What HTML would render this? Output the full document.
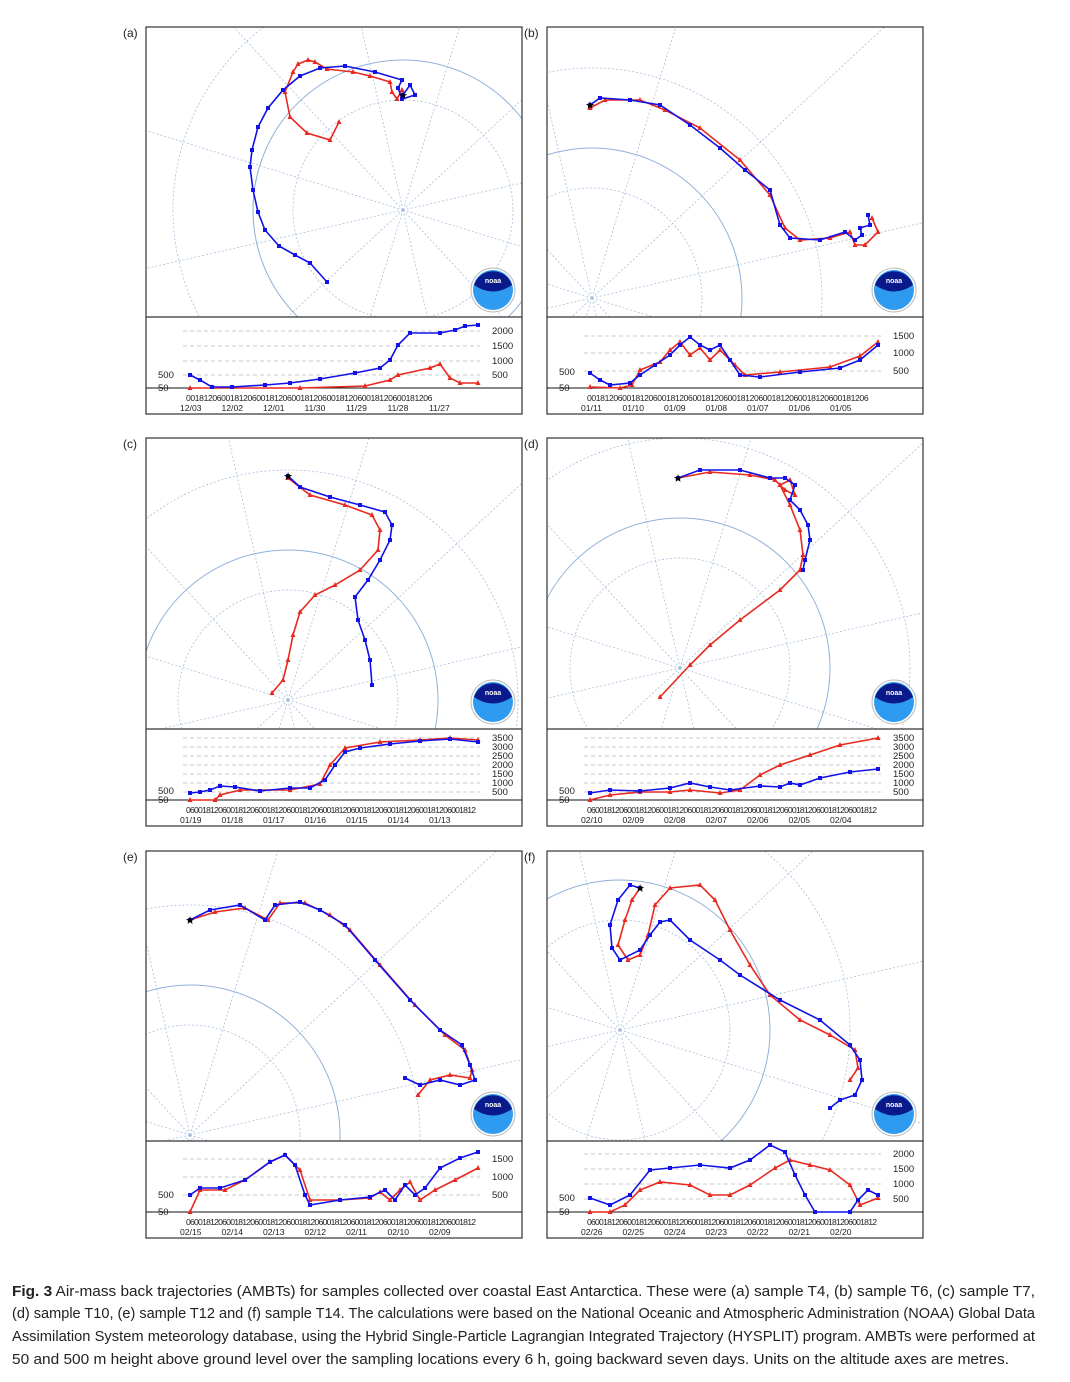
<!DOCTYPE html>
<html><head><meta charset="utf-8"><style>
body{margin:0;background:#fff;width:1070px;height:1382px;overflow:hidden;font-family:"Liberation Sans",sans-serif}
svg{position:absolute;left:0;top:0}
</style></head><body>
<svg id="s" width="1070" height="1382" xmlns="http://www.w3.org/2000/svg"></svg>
<svg width="1070" height="1382" style="pointer-events:none" font-family="Liberation Sans, sans-serif" font-size="14.5" fill="#222">
<text x="12" y="1296" textLength="1023" lengthAdjust="spacingAndGlyphs"><tspan font-weight="bold">Fig. 3</tspan> Air-mass back trajectories (AMBTs) for samples collected over coastal East Antarctica. These were (a) sample T4, (b) sample T6, (c) sample T7,</text>
<text x="12" y="1318" textLength="1023" lengthAdjust="spacingAndGlyphs">(d) sample T10, (e) sample T12 and (f) sample T14. The calculations were based on the National Oceanic and Atmospheric Administration (NOAA) Global Data</text>
<text x="12" y="1341" textLength="1023" lengthAdjust="spacingAndGlyphs">Assimilation System meteorology database, using the Hybrid Single-Particle Lagrangian Integrated Trajectory (HYSPLIT) program. AMBTs were performed at</text>
<text x="12" y="1364" textLength="997" lengthAdjust="spacingAndGlyphs">50 and 500 m height above ground level over the sampling locations every 6 h, going backward seven days. Units on the altitude axes are metres.</text>
</svg>
<script>
const S=document.getElementById('s');let h='';
const P=[
{l:'(a)',x:146,t:27,mb:317,b:414,pole:[403,210],base:388,ll:[[375,'500'],[388,'50']],rl:[[331,'2000'],[346,'1500'],[361,'1000'],[375,'500']],tk:'00181206001812060018120600181206001812060018120600181206',d:['12/03','12/02','12/01','11/30','11/29','11/28','11/27'],
B:[[403,95],[410,85],[415,95],[402,99],[398,88],[402,80],[375,72],[345,66],[320,68],[300,76],[283,90],[268,108],[258,127],[252,150],[250,167],[253,190],[258,212],[265,230],[279,246],[295,255],[310,263],[327,282]],
R:[[402,90],[397,99],[392,92],[390,82],[370,76],[353,72],[327,69],[315,62],[308,60],[298,64],[293,72],[285,92],[290,117],[307,133],[330,140],[339,122]],
AB:[[190,375],[200,380],[212,387],[232,387],[265,385],[290,383],[320,379],[355,373],[380,368],[390,360],[398,345],[410,333],[440,333],[455,330],[465,326],[478,325]],
AR:[[190,388],[300,388],[365,386],[390,380],[398,375],[430,368],[440,364],[450,378],[460,383],[478,383]]},
{l:'(b)',x:547,t:27,mb:317,b:414,pole:[592,298],base:388,ll:[[372,'500'],[388,'50']],rl:[[336,'1500'],[353,'1000'],[371,'500']],tk:'0018120600181206001812060018120600181206001812060018120600181206',d:['01/11','01/10','01/09','01/08','01/07','01/06','01/05'],
B:[[590,105],[600,98],[630,100],[660,105],[690,125],[720,148],[745,170],[770,190],[780,225],[790,238],[820,240],[845,232],[855,240],[862,235],[860,228],[870,225],[868,215]],
R:[[590,108],[605,100],[640,100],[665,110],[700,128],[740,160],[770,195],[785,228],[800,240],[830,238],[850,232],[855,245],[865,245],[878,232],[872,218]],
AB:[[590,373],[600,380],[610,385],[630,383],[640,375],[655,365],[670,355],[680,345],[690,337],[700,345],[710,350],[720,345],[730,360],[740,375],[760,377],[800,372],[840,368],[860,360],[878,345]],
AR:[[590,387],[620,388],[632,385],[640,370],[660,362],[670,350],[680,342],[690,355],[700,348],[710,360],[720,350],[735,365],[745,375],[780,372],[830,367],[860,356],[878,342]]},
{l:'(c)',x:146,t:438,mb:729,b:826,pole:[288,700],base:800,ll:[[791,'500'],[800,'50']],rl:[[738,'3500'],[747,'3000'],[756,'2500'],[765,'2000'],[774,'1500'],[783,'1000'],[792,'500']],tk:'060018120600181206001812060018120600181206001812060018120600181206001812',d:['01/19','01/18','01/17','01/16','01/15','01/14','01/13'],
B:[[288,476],[300,487],[330,497],[360,505],[385,512],[392,525],[390,540],[380,560],[368,580],[355,597],[358,620],[365,640],[370,660],[372,685]],
R:[[288,478],[310,495],[345,505],[372,515],[380,530],[378,550],[360,570],[335,585],[315,595],[300,612],[293,635],[288,660],[283,680],[272,693]],
AB:[[190,793],[200,792],[210,790],[220,786],[235,787],[260,791],[290,788],[310,788],[325,780],[335,765],[345,752],[360,748],[390,744],[420,741],[450,739],[478,742]],
AR:[[190,800],[215,800],[220,795],[240,790],[290,790],[320,784],[330,765],[345,748],[380,742],[420,740],[450,738],[478,740]]},
{l:'(d)',x:547,t:438,mb:729,b:826,pole:[680,668],base:800,ll:[[791,'500'],[800,'50']],rl:[[738,'3500'],[747,'3000'],[756,'2500'],[765,'2000'],[774,'1500'],[783,'1000'],[792,'500']],tk:'060018120600181206001812060018120600181206001812060018120600181206001812',d:['02/10','02/09','02/08','02/07','02/06','02/05','02/04'],
B:[[678,478],[700,470],[740,470],[770,478],[785,478],[795,485],[790,500],[800,510],[808,525],[810,540],[805,560],[803,570]],
R:[[678,478],[710,472],[750,475],[775,480],[785,490],[795,495],[790,480],[780,485],[790,505],[800,530],[803,555],[800,570],[780,590],[740,620],[710,645],[690,665],[660,697]],
AB:[[590,793],[610,790],[640,791],[670,788],[690,783],[710,787],[730,790],[760,786],[780,787],[790,783],[800,785],[820,778],[850,772],[878,769]],
AR:[[590,800],[610,795],[640,792],[670,792],[690,790],[720,793],[740,790],[760,775],[780,765],[810,755],[840,745],[878,738]]},
{l:'(e)',x:146,t:851,mb:1141,b:1238,pole:[190,1135],base:1212,ll:[[1195,'500'],[1212,'50']],rl:[[1159,'1500'],[1177,'1000'],[1195,'500']],tk:'060018120600181206001812060018120600181206001812060018120600181206001812',d:['02/15','02/14','02/13','02/12','02/11','02/10','02/09'],
B:[[190,920],[210,910],[240,905],[265,920],[275,905],[300,902],[320,910],[345,925],[375,960],[410,1000],[440,1030],[462,1045],[470,1065],[475,1080],[460,1085],[440,1080],[420,1085],[405,1078]],
R:[[190,920],[215,912],[245,908],[268,920],[280,903],[305,903],[330,915],[350,930],[380,965],[415,1005],[445,1035],[465,1050],[472,1070],[470,1078],[450,1075],[430,1080],[418,1095]],
AB:[[190,1195],[200,1188],[220,1188],[245,1180],[270,1162],[285,1155],[295,1165],[305,1195],[310,1205],[340,1200],[370,1197],[385,1190],[395,1200],[405,1185],[415,1195],[425,1188],[440,1168],[460,1158],[478,1152]],
AR:[[190,1212],[200,1190],[225,1190],[245,1180],[270,1162],[285,1155],[300,1170],[310,1200],[340,1200],[370,1198],[380,1192],[390,1200],[400,1190],[410,1182],[420,1200],[435,1190],[455,1180],[478,1168]]},
{l:'(f)',x:547,t:851,mb:1141,b:1238,pole:[620,1030],base:1212,ll:[[1198,'500'],[1212,'50']],rl:[[1154,'2000'],[1169,'1500'],[1184,'1000'],[1199,'500']],tk:'060018120600181206001812060018120600181206001812060018120600181206001812',d:['02/26','02/25','02/24','02/23','02/22','02/21','02/20'],
B:[[640,888],[630,885],[618,900],[610,925],[612,948],[620,960],[640,950],[650,935],[660,922],[670,920],[690,940],[720,960],[740,975],[780,1000],[820,1020],[850,1045],[860,1060],[862,1080],[855,1095],[840,1100],[830,1108]],
R:[[640,888],[632,900],[625,920],[618,945],[628,960],[640,955],[648,935],[655,905],[670,888],[700,885],[715,900],[730,930],[750,965],[770,995],[800,1020],[830,1035],[855,1050],[858,1068],[850,1080]],
AB:[[590,1198],[610,1205],[630,1195],[650,1170],[670,1168],[700,1165],[730,1168],[750,1160],[770,1145],[785,1152],[795,1175],[805,1195],[815,1212],[850,1212],[858,1200],[868,1190],[878,1195]],
AR:[[590,1212],[610,1212],[625,1205],[640,1190],[660,1182],[690,1185],[710,1195],[730,1195],[750,1185],[775,1168],[790,1160],[810,1165],[830,1170],[850,1185],[860,1205],[878,1198]]}
];
function pts(a){return a.map(p=>p.join(',')).join(' ')}
function line(a,c,m){let s=`<polyline points="${pts(a)}" fill="none" stroke="${c}" stroke-width="1.6"/>`;
 a.forEach(p=>{if(m=='s')s+=`<rect x="${p[0]-2}" y="${p[1]-2}" width="4" height="4" fill="${c}"/>`;else s+=`<polygon points="${p[0]},${p[1]-3} ${p[0]-2.5},${p[1]+2} ${p[0]+2.5},${p[1]+2}" fill="${c}"/>`});return s}
P.forEach(p=>{const W=376,x=p.x,r=x+W;
 h+=`<text x="${x-23}" y="${p.t+10}" font-size="12" fill="#222">${p.l}</text>`;
 h+=`<clipPath id="c${p.l[1]}"><rect x="${x}" y="${p.t}" width="${W}" height="${p.mb-p.t}"/></clipPath><g clip-path="url(#c${p.l[1]})">`;
 const [px,py]=p.pole;
 for(let k=0;k<12;k++){const a=k*Math.PI/6+0.3;h+=`<line x1="${px}" y1="${py}" x2="${px+600*Math.cos(a)}" y2="${py+600*Math.sin(a)}" stroke="#a8bfdc" stroke-width="0.8" stroke-dasharray="2,2"/>`}
 [110,230].forEach(rr=>h+=`<circle cx="${px}" cy="${py}" r="${rr}" fill="none" stroke="#a8bfdc" stroke-width="0.8" stroke-dasharray="2,2"/>`);
 h+=`<circle cx="${px}" cy="${py}" r="150" fill="none" stroke="#8fb0d8" stroke-width="1"/>`;
 h+=line(p.R,'#e8291f','t')+line(p.B,'#1212e8','s');
 h+=`</g>`;
 const lx=r-29,ly=p.mb-27;
 h+=`<circle cx="${lx}" cy="${ly}" r="22" fill="#fff" stroke="#bbb"/><circle cx="${lx}" cy="${ly}" r="20" fill="#2f9bf0"/><path d="M${lx-19} ${ly-5}A20 20 0 0 1 ${lx+19} ${ly-5}Q${lx} ${ly+8} ${lx-19} ${ly-5}Z" fill="#0a1a8a"/><text x="${lx}" y="${ly-7}" font-size="7" fill="#fff" text-anchor="middle" font-weight="bold">noaa</text>`;
 h+=`<rect x="${x}" y="${p.t}" width="${W}" height="${p.b-p.t}" fill="none" stroke="#333" stroke-width="1.2"/><line x1="${x}" y1="${p.mb}" x2="${r}" y2="${p.mb}" stroke="#333" stroke-width="1.2"/>`;
 p.rl.forEach(q=>{h+=`<line x1="${x+37}" y1="${q[0]}" x2="${r-42}" y2="${q[0]}" stroke="#bbb" stroke-dasharray="4,3" stroke-width="0.8"/><text x="${r-30}" y="${q[0]+3}" font-size="9.5" fill="#222">${q[1]}</text>`});
 p.ll.forEach(q=>h+=`<text x="${x+12}" y="${q[0]+3}" font-size="9.5" fill="#222">${q[1]}</text>`);
 h+=`<line x1="${x}" y1="${p.base}" x2="${r}" y2="${p.base}" stroke="#111" stroke-width="1"/>`;
 h+=line(p.AR,'#e8291f','t')+line(p.AB,'#1212e8','s');
 h+=`<text x="${x+40}" y="${p.base+13}" font-size="8.6" fill="#222" textLength="${Math.min(290,p.tk.length*4.4)}">${p.tk}</text>`;
 p.d.forEach((d,i)=>h+=`<text x="${x+34+i*41.5}" y="${p.base+23}" font-size="8.6" fill="#222">${d}</text>`);
 const st=p.B[0];h+=`<text x="${st[0]}" y="${st[1]+4}" font-size="11" text-anchor="middle" fill="#000">★</text>`;
});
S.innerHTML=h;
</script>
</body></html>
